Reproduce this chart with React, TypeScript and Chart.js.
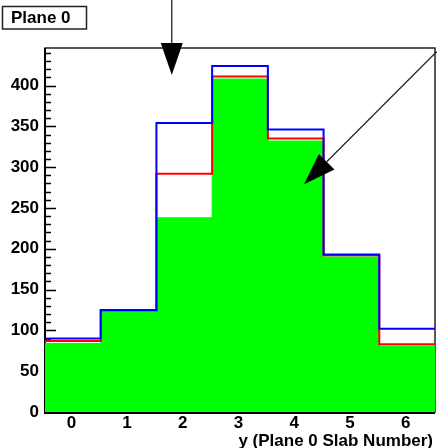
import React, { useEffect, useRef } from "react";
import { Chart, registerables } from "chart.js";

Chart.register(...registerables);

// Slab index (bin centres) and the three overlaid count histograms
const slabs = [0, 1, 2, 3, 4, 5, 6];
const blueCounts = [90, 125, 354, 424, 346, 193, 102];
const redCounts = [87, 124, 292, 411, 335, 192, 83];
const greenCounts = [84, 122, 238, 408, 332, 190, 81];

// Axis setup
const yTickValues = [0, 50, 100, 150, 200, 250, 300, 350, 400];
const yMinorStep = 10;
const yMax = 446;
const xMin = -0.5;
const xMax = 6.5;

const panelTitle = "Plane 0";
const xTitle = "y (Plane 0 Slab Number)";

// Arrow annotations in axis units: [xStart, yStart, xTip, yTip]
const arrows: number[][] = [
  [1.775, 505, 1.775, 413],
  [6.53, 441.5, 4.15, 279],
];

const FONT = "bold 17px 'Liberation Sans', Arial, Helvetica, sans-serif";

// Turn bin contents into the corner points of a step outline
const steps = (counts: number[]) =>
  counts.flatMap((v, i) => [
    { x: slabs[i] - 0.5, y: v },
    { x: slabs[i] + 0.5, y: v },
  ]);

const framePlugin = {
  id: "rootFrame",
  beforeDatasetsDraw(chart: any) {
    const { ctx, chartArea: a, scales } = chart;
    const y = scales.y;
    ctx.save();
    // frame
    ctx.strokeStyle = "#222";
    ctx.lineWidth = 1.5;
    ctx.strokeRect(a.left, a.top, a.right - a.left, a.bottom - a.top);
    // axis lines
    ctx.strokeStyle = "#000";
    ctx.lineWidth = 2;
    ctx.beginPath();
    ctx.moveTo(a.left, a.top);
    ctx.lineTo(a.left, a.bottom + 1);
    ctx.lineTo(a.right, a.bottom + 1);
    ctx.stroke();
    // y ticks drawn inward
    ctx.lineWidth = 1.5;
    ctx.beginPath();
    for (let v = 0; v <= yMax; v += yMinorStep) {
      const py = Math.round(y.getPixelForValue(v)) + 0.5;
      const len = v % 50 === 0 ? 11 : 6;
      ctx.moveTo(a.left, py);
      ctx.lineTo(a.left + len, py);
    }
    ctx.stroke();
    ctx.restore();
  },
  afterDraw(chart: any) {
    const { ctx, chartArea: a, scales } = chart;
    const x = scales.x;
    const y = scales.y;
    ctx.save();

    // x tick labels
    ctx.fillStyle = "#000";
    ctx.font = FONT;
    ctx.textAlign = "center";
    ctx.textBaseline = "alphabetic";
    slabs.forEach((s) => {
      ctx.fillText(String(s), x.getPixelForValue(s) - 1.5, a.bottom + 15.5);
    });

    // x title, right aligned
    ctx.textAlign = "right";
    ctx.fillText(xTitle, a.right - 2, a.bottom + 34);

    // title box
    ctx.strokeStyle = "#222";
    ctx.lineWidth = 1.5;
    ctx.strokeRect(2.5, 6.5, 84, 22.5);
    ctx.textAlign = "left";
    ctx.fillText(panelTitle, 11, 23);

    // arrows
    arrows.forEach(([x0, y0, x1, y1]) => {
      const sx = x.getPixelForValue(x0);
      const sy = y.getPixelForValue(y0);
      const tx = x.getPixelForValue(x1);
      const ty = y.getPixelForValue(y1);
      const dx = tx - sx;
      const dy = ty - sy;
      const L = Math.hypot(dx, dy);
      const ux = dx / L;
      const uy = dy / L;
      const headLen = 32;
      const half = 11;
      const bx = tx - ux * headLen;
      const by = ty - uy * headLen;
      ctx.strokeStyle = "#222";
      ctx.lineWidth = 1.3;
      ctx.beginPath();
      ctx.moveTo(sx, sy);
      ctx.lineTo(bx, by);
      ctx.stroke();
      ctx.fillStyle = "#000";
      ctx.beginPath();
      ctx.moveTo(tx, ty);
      ctx.lineTo(bx - uy * half, by + ux * half);
      ctx.lineTo(bx + uy * half, by - ux * half);
      ctx.closePath();
      ctx.fill();
    });
    ctx.restore();
  },
};

export default function App() {
  const canvasRef = useRef<HTMLCanvasElement | null>(null);

  useEffect(() => {
    const canvas = canvasRef.current;
    if (!canvas) return;
    const line = {
      type: "line" as const,
      pointRadius: 0,
      tension: 0,
      borderWidth: 2,
    };
    const chart = new Chart(canvas, {
      type: "line",
      data: {
        datasets: [
          {
            ...line,
            label: "blue",
            data: steps(blueCounts),
            borderColor: "#0000ff",
            fill: false,
            order: 1,
          },
          {
            ...line,
            label: "red",
            data: steps(redCounts),
            borderColor: "#ff0000",
            fill: false,
            order: 2,
          },
          {
            ...line,
            label: "green",
            data: steps(greenCounts),
            borderColor: "#00ff00",
            backgroundColor: "#00ff00",
            borderWidth: 1,
            fill: "origin",
            order: 3,
          },
        ],
      },
      options: {
        animation: false,
        responsive: false,
        maintainAspectRatio: false,
        devicePixelRatio: 1,
        layout: { padding: { left: 0, right: 2, top: 48, bottom: 0 } },
        plugins: {
          legend: { display: false },
          title: { display: false },
          tooltip: { enabled: false },
        },
        scales: {
          x: {
            type: "linear",
            min: xMin,
            max: xMax,
            grid: { display: false, drawTicks: false },
            border: { display: false },
            ticks: { display: false },
            afterBuildTicks: (s: any) => {
              s.ticks = slabs.map((v) => ({ value: v }));
            },
            afterFit: (s: any) => {
              s.height = 36;
            },
          },
          y: {
            type: "linear",
            min: 0,
            max: yMax,
            grid: { display: false, drawTicks: false },
            border: { display: false },
            ticks: {
              color: "#000",
              padding: 6,
              font: {
                family: "'Liberation Sans', Arial, Helvetica, sans-serif",
                size: 17,
                weight: "bold",
              },
            },
            afterBuildTicks: (s: any) => {
              s.ticks = yTickValues.map((v) => ({ value: v }));
            },
            afterFit: (s: any) => {
              s.width = 45;
            },
          },
        },
      },
      plugins: [framePlugin],
    } as any);
    return () => chart.destroy();
  }, []);

  return (
    <div style={{ position: "fixed", left: 0, top: 0, width: 437, height: 448, background: "#fff" }}>
      <canvas ref={canvasRef} width={437} height={448} style={{ display: "block" }} />
    </div>
  );
}
